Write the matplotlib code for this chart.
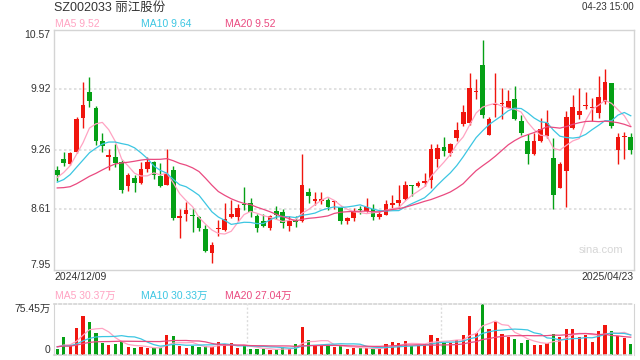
import matplotlib
matplotlib.use("Agg")
import matplotlib.pyplot as plt
import numpy as np
import pandas as pd

plt.rcParams['font.family'] = ['Liberation Sans', 'Noto Sans CJK SC', 'DejaVu Sans']

## -------- DATA -------- ##

title = 'SZ002033 丽江股份'
stamp = '04-23 15:00'
first_date = '2024/12/09'
last_date = '2025/04/23'

# daily candles, 2024/12/09 .. 2025/04/23
open_ = [9.04, 9.16, 9.10, 9.24, 9.61, 9.89, 9.72, 9.35, 9.18, 9.18,
         9.13, 8.87, 8.95, 8.90, 9.05, 9.13, 8.97, 8.88, 9.04, 8.52,
         8.56, 8.55, 8.53, 8.40, 8.13, 8.40, 8.39, 8.53, 8.53, 8.67,
         8.68, 8.54, 8.48, 8.41, 8.59, 8.58, 8.43, 8.49, 8.48, 8.80,
         8.70, 8.70, 8.71, 8.69, 8.64, 8.48, 8.52, 8.61, 8.59, 8.61,
         8.53, 8.55, 8.66, 8.68, 8.72, 8.88, 8.86, 8.90, 8.93, 9.16,
         9.29, 9.22, 9.39, 9.54, 9.55, 9.89, 10.18, 9.42, 9.75, 9.76,
         9.72, 9.81, 9.57, 9.35, 9.21, 9.35, 9.41, 9.17, 8.84, 9.03,
         9.50, 9.64, 9.74, 9.72, 9.66, 9.78, 9.99, 9.26, 9.40, 9.40]
high = [9.08, 9.24, 9.24, 9.62, 10.00, 10.05, 9.74, 9.44, 9.27, 9.32,
        9.15, 9.01, 8.98, 9.13, 9.18, 9.14, 9.12, 9.27, 9.08, 8.61,
        8.69, 8.63, 8.54, 8.44, 8.26, 8.50, 8.68, 8.71, 8.67, 8.85,
        8.73, 8.56, 8.56, 8.55, 8.65, 8.61, 8.54, 8.54, 9.21, 8.84,
        8.80, 8.80, 8.73, 8.71, 8.65, 8.53, 8.63, 8.65, 8.73, 8.67,
        8.59, 8.71, 8.77, 8.88, 8.92, 8.88, 8.92, 9.01, 9.32, 9.32,
        9.40, 9.33, 9.56, 9.75, 10.10, 10.03, 10.46, 9.62, 10.10, 9.93,
        9.91, 9.95, 9.64, 9.43, 9.44, 9.61, 9.69, 9.39, 9.13, 9.68,
        9.86, 9.93, 9.89, 9.82, 10.06, 10.14, 9.99, 9.44, 9.45, 9.44]
low = [8.92, 9.08, 9.09, 9.23, 9.50, 9.73, 9.31, 9.24, 9.04, 9.07,
       8.79, 8.81, 8.80, 8.89, 9.02, 8.94, 8.85, 8.88, 8.50, 8.30,
       8.48, 8.36, 8.38, 8.15, 8.03, 8.32, 8.37, 8.52, 8.48, 8.60,
       8.53, 8.36, 8.42, 8.39, 8.51, 8.41, 8.37, 8.42, 8.47, 8.68,
       8.66, 8.67, 8.60, 8.61, 8.45, 8.45, 8.48, 8.56, 8.58, 8.50,
       8.51, 8.55, 8.63, 8.64, 8.71, 8.76, 8.85, 8.87, 8.84, 9.07,
       9.19, 9.19, 9.36, 9.52, 9.53, 9.81, 9.61, 9.42, 9.62, 9.59,
       9.71, 9.58, 9.42, 9.11, 9.20, 9.34, 9.39, 8.61, 8.84, 8.64,
       9.49, 9.60, 9.70, 9.57, 9.61, 9.76, 9.50, 9.10, 9.16, 9.21]
close = [8.99, 9.12, 9.22, 9.60, 9.75, 9.79, 9.35, 9.30, 9.20, 9.12,
         8.82, 8.98, 8.90, 9.05, 9.13, 8.98, 8.87, 9.00, 8.52, 8.54,
         8.60, 8.54, 8.41, 8.16, 8.22, 8.41, 8.51, 8.56, 8.63, 8.66,
         8.58, 8.41, 8.43, 8.54, 8.55, 8.46, 8.48, 8.47, 8.88, 8.76,
         8.72, 8.72, 8.64, 8.70, 8.48, 8.52, 8.58, 8.60, 8.64, 8.53,
         8.56, 8.67, 8.68, 8.71, 8.88, 8.87, 8.90, 8.92, 9.27, 9.28,
         9.25, 9.32, 9.48, 9.67, 9.93, 9.90, 9.64, 9.60, 9.76, 9.77,
         9.79, 9.59, 9.44, 9.21, 9.36, 9.49, 9.55, 8.77, 9.11, 9.62,
         9.73, 9.68, 9.75, 9.73, 9.83, 10.00, 9.52, 9.40, 9.40, 9.26]

# volume, 万 shares
volume = [8.5, 26.5, 14, 40.5, 58, 49, 33, 17.5, 14.5, 16,
          19, 11.5, 10, 11.5, 10.5, 10.5, 10.5, 29.5, 28, 13,
          10, 13, 11.5, 14, 11.5, 19.5, 16, 17.5, 10, 13.5,
          8.5, 8.5, 8.5, 7.5, 8.5, 11.5, 8.5, 16, 41.5, 22,
          13, 14.5, 15.5, 11.5, 13.5, 8.5, 10, 10.5, 10.5, 8.5,
          8.5, 16, 19, 17.5, 20.5, 13.5, 14.5, 16, 29.5, 25,
          17.5, 17.5, 22, 29.5, 58, 32, 75.45, 38.5, 49, 31,
          26.5, 23.5, 17.5, 22, 14.5, 14.5, 17.5, 31, 26.5, 38.5,
          38.5, 26.5, 29.5, 19, 35.5, 44.5, 35.5, 28, 25, 16]

# sessions before the window, estimated from where the MA lines start
prev_close = [9.05, 9.02, 8.96, 8.95, 8.97, 8.70, 8.55, 8.50, 8.52, 8.60,
              8.83, 8.68, 8.80, 8.96, 9.00, 8.85, 8.85, 8.98, 9.12]
prev_volume = [12, 14, 11, 13, 12, 15, 13, 12, 11, 14,
               13, 12, 14, 12, 13, 11, 12, 14, 13]

price_ticks = [7.95, 8.61, 9.26, 9.92, 10.57]
price_tick_labels = ['7.95', '8.61', '9.26', '9.92', '10.57']
vol_top = 75.45
vol_tick_labels = ['0', '75.45万']

ma_periods = [5, 10, 20]
ma_price_labels = ['MA5 9.52', 'MA10 9.64', 'MA20 9.52']
ma_vol_labels = ['MA5 30.37万', 'MA10 30.33万', 'MA20 27.04万']

## -------- STYLE -------- ##
RED = '#f0150e'
GREEN = '#05a015'
MA_COLORS = ['#ffa3c2', '#3cc6e2', '#ea4a80']
GRID = '#dcdcdc'
FRAME = '#d4d4d4'
TXT = '#333333'

n = len(close)
x = np.arange(n)
o = np.array(open_)
c = np.array(close)
h = np.array(high)
lo = np.array(low)
up = c >= o
colors = np.where(up, RED, GREEN)

all_close = pd.Series(prev_close + close)
all_vol = pd.Series(prev_volume + volume)
k = len(prev_close)

fig = plt.figure(figsize=(6.4, 3.6), dpi=100)

L = 54 / 640
W = 580 / 640
ax = fig.add_axes([L, 1 - 270 / 360, W, 240.5 / 360])
axv = fig.add_axes([L, 1 - 355 / 360, W, 50.7 / 360])

# ---- price panel
for yv in price_ticks[1:-1]:
    ax.axhline(yv, color=GRID, lw=1.2, ls=(0, (1.5, 1.5)), zorder=0)

ax.vlines(x, lo, h, colors=colors, lw=1.0, zorder=2)
body = np.maximum(np.abs(c - o), 0.008)
ax.bar(x, body, bottom=np.minimum(o, c), width=0.72, color=colors, zorder=3)

for p, col in zip(ma_periods, MA_COLORS):
    ma = all_close.rolling(p).mean().values[k:]
    ax.plot(x, ma, color=col, lw=0.9, zorder=4)

ax.set_xlim(-0.5, n - 0.5)
ax.set_ylim(price_ticks[0], price_ticks[-1])
ax.set_xticks([])
ax.set_yticks([])
for s in ax.spines.values():
    s.set_color(FRAME)
    s.set_linewidth(1.0)

tr = ax.get_yaxis_transform()
for i, (yv, lab) in enumerate(zip(price_ticks, price_tick_labels)):
    va = 'bottom' if i == 0 else ('top' if i == len(price_ticks) - 1 else 'center')
    ax.text(-0.006, yv, lab, transform=tr, ha='right', va=va, fontsize=7.5, color=TXT)

fig.text(L, 1 - 277 / 360, first_date, ha='left', va='center', fontsize=7.5, color=TXT)
fig.text(634 / 640, 1 - 277 / 360, last_date, ha='right', va='center', fontsize=7.5, color=TXT)
fig.text(623 / 640, 1 - 250 / 360, 'sina.com', ha='right', va='center', fontsize=8, color='#d6d6d6')

# ---- header
fig.text(L, 1 - 8 / 360, title, ha='left', va='center', fontsize=9, color=TXT)
fig.text(634 / 640, 1 - 7 / 360, stamp, ha='right', va='center', fontsize=7, color=TXT)
label_x = [55, 141, 225]
for lx, lab, col in zip(label_x, ma_price_labels, MA_COLORS):
    fig.text(lx / 640, 1 - 24 / 360, lab, ha='left', va='center', fontsize=7.5, color=col)

# ---- volume panel
axv.bar(x, volume, width=0.5, color=colors, zorder=2)
for p, col in zip(ma_periods, MA_COLORS):
    mv = all_vol.rolling(p).mean().values[k:]
    axv.plot(x, mv, color=col, lw=0.9, zorder=3)

axv.set_xlim(-0.5, n - 0.5)
axv.set_ylim(0, vol_top)
axv.set_xticks([])
axv.set_yticks([])
for side in ['left', 'right']:
    axv.spines[side].set_color(FRAME)
for side in ['top', 'bottom']:
    axv.spines[side].set_color(FRAME)
    axv.spines[side].set_linestyle((0, (1.5, 1.5)))
    axv.spines[side].set_linewidth(1.2)
for fx in [1 / 3, 2 / 3]:
    axv.axvline(fx * n - 0.5, color=GRID, lw=1.0, ls=(0, (1.5, 1.5)), zorder=0)

trv = axv.get_yaxis_transform()
axv.text(-0.006, 0, vol_tick_labels[0], transform=trv, ha='right', va='bottom', fontsize=7.5, color=TXT)
axv.text(-0.006, vol_top, vol_tick_labels[1], transform=trv, ha='right', va='top', fontsize=7.5, color=TXT)
for lx, lab, col in zip(label_x, ma_vol_labels, MA_COLORS):
    fig.text(lx / 640, 1 - 295.5 / 360, lab, ha='left', va='center', fontsize=7.5, color=col)

plt.savefig('out.png', dpi=100)
